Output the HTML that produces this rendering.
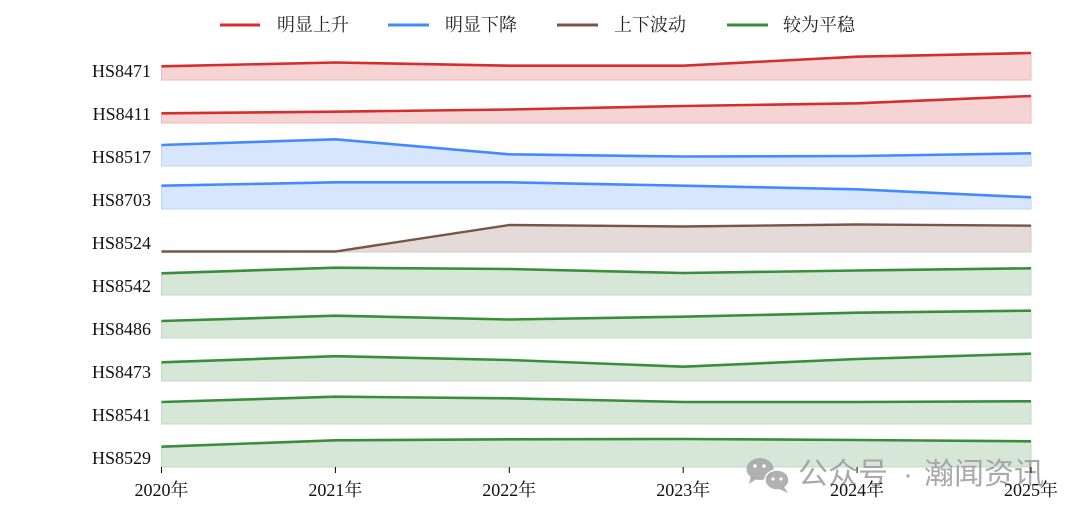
<!DOCTYPE html>
<html><head><meta charset="utf-8"><style>
html,body{margin:0;padding:0;background:#fff;}
svg{display:block;}
text{font-family:"Liberation Serif","Noto Serif CJK SC",serif;}
.lg{font-family:"Liberation Serif","Noto Serif CJK SC",serif;font-size:18px;fill:#222;}
.yl{font-size:18px;fill:#111;text-anchor:end;}
.xl{font-size:18px;fill:#111;text-anchor:middle;}
.wm{font-family:"Liberation Sans","Noto Sans CJK SC",sans-serif;font-size:30px;fill:#9a9a9a;fill-opacity:0.85;}
</style></head><body>
<svg width="1080" height="519" viewBox="0 0 1080 519" xmlns="http://www.w3.org/2000/svg">
<!-- Legend -->
<line x1="220" y1="25" x2="260" y2="25" stroke="#d32f2f" stroke-width="3"/>
<text class="lg" x="277" y="31">明显上升</text>
<line x1="388" y1="25" x2="429" y2="25" stroke="#448aff" stroke-width="3"/>
<text class="lg" x="445" y="31">明显下降</text>
<line x1="557" y1="25" x2="598" y2="25" stroke="#795548" stroke-width="3"/>
<text class="lg" x="614" y="31">上下波动</text>
<line x1="727" y1="25" x2="768" y2="25" stroke="#388e3c" stroke-width="3"/>
<text class="lg" x="783" y="31">较为平稳</text>

<!-- Row 1 HS8471 base 80 -->
<polygon points="161.5,66.3 335.4,62.5 509.3,65.7 683.2,65.7 857.1,56.7 1031,53 1031,80 161.5,80" fill="#f6d4d4" stroke="#f0b9b9" stroke-width="1"/>
<polyline points="161.5,66.3 335.4,62.5 509.3,65.7 683.2,65.7 857.1,56.7 1031,53" fill="none" stroke="#d32f2f" stroke-width="2.6"/>
<!-- Row 2 HS8411 base 123 -->
<polygon points="161.5,113.3 335.4,111.7 509.3,109.5 683.2,106 857.1,103.3 1031,96 1031,123 161.5,123" fill="#f6d4d4" stroke="#f0b9b9" stroke-width="1"/>
<polyline points="161.5,113.3 335.4,111.7 509.3,109.5 683.2,106 857.1,103.3 1031,96" fill="none" stroke="#d32f2f" stroke-width="2.6"/>
<!-- Row 3 HS8517 base 166 -->
<polygon points="161.5,145 335.4,139.3 509.3,154.3 683.2,156.5 857.1,156 1031,153.3 1031,166 161.5,166" fill="#d7e6fc" stroke="#bcd5fa" stroke-width="1"/>
<polyline points="161.5,145 335.4,139.3 509.3,154.3 683.2,156.5 857.1,156 1031,153.3" fill="none" stroke="#448aff" stroke-width="2.6"/>
<!-- Row 4 HS8703 base 209 -->
<polygon points="161.5,185.7 335.4,182.3 509.3,182.3 683.2,185.7 857.1,189.3 1031,197.3 1031,209 161.5,209" fill="#d7e6fc" stroke="#bcd5fa" stroke-width="1"/>
<polyline points="161.5,185.7 335.4,182.3 509.3,182.3 683.2,185.7 857.1,189.3 1031,197.3" fill="none" stroke="#448aff" stroke-width="2.6"/>
<!-- Row 5 HS8524 base 252 -->
<polygon points="161.5,251.5 335.4,251.5 509.3,225 683.2,226.5 857.1,224.5 1031,225.7 1031,252 161.5,252" fill="#e4dbd8" stroke="#d6c8c3" stroke-width="1"/>
<polyline points="161.5,251.5 335.4,251.5 509.3,225 683.2,226.5 857.1,224.5 1031,225.7" fill="none" stroke="#795548" stroke-width="2.4"/>
<!-- Row 6 HS8542 base 295 -->
<polygon points="161.5,273.3 335.4,267.7 509.3,269 683.2,273 857.1,270.5 1031,268.3 1031,295 161.5,295" fill="#d7e7d7" stroke="#c0dbc1" stroke-width="1"/>
<polyline points="161.5,273.3 335.4,267.7 509.3,269 683.2,273 857.1,270.5 1031,268.3" fill="none" stroke="#388e3c" stroke-width="2.6"/>
<!-- Row 7 HS8486 base 338 -->
<polygon points="161.5,321 335.4,315.7 509.3,319.5 683.2,316.7 857.1,312.7 1031,310.7 1031,338 161.5,338" fill="#d7e7d7" stroke="#c0dbc1" stroke-width="1"/>
<polyline points="161.5,321 335.4,315.7 509.3,319.5 683.2,316.7 857.1,312.7 1031,310.7" fill="none" stroke="#388e3c" stroke-width="2.6"/>
<!-- Row 8 HS8473 base 381 -->
<polygon points="161.5,362.3 335.4,356.2 509.3,360 683.2,366.7 857.1,359 1031,353.7 1031,381 161.5,381" fill="#d7e7d7" stroke="#c0dbc1" stroke-width="1"/>
<polyline points="161.5,362.3 335.4,356.2 509.3,360 683.2,366.7 857.1,359 1031,353.7" fill="none" stroke="#388e3c" stroke-width="2.6"/>
<!-- Row 9 HS8541 base 424 -->
<polygon points="161.5,402 335.4,396.7 509.3,398.3 683.2,402 857.1,402 1031,401.3 1031,424 161.5,424" fill="#d7e7d7" stroke="#c0dbc1" stroke-width="1"/>
<polyline points="161.5,402 335.4,396.7 509.3,398.3 683.2,402 857.1,402 1031,401.3" fill="none" stroke="#388e3c" stroke-width="2.6"/>
<!-- Row 10 HS8529 base 467 -->
<polygon points="161.5,446.7 335.4,440.3 509.3,439.3 683.2,439 857.1,440 1031,441.3 1031,467 161.5,467" fill="#d7e7d7" stroke="#c0dbc1" stroke-width="1"/>
<polyline points="161.5,446.7 335.4,440.3 509.3,439.3 683.2,439 857.1,440 1031,441.3" fill="none" stroke="#388e3c" stroke-width="2.6"/>

<!-- Y labels -->
<text class="yl" x="151" y="77">HS8471</text>
<text class="yl" x="151" y="120">HS8411</text>
<text class="yl" x="151" y="163">HS8517</text>
<text class="yl" x="151" y="206">HS8703</text>
<text class="yl" x="151" y="249">HS8524</text>
<text class="yl" x="151" y="292">HS8542</text>
<text class="yl" x="151" y="335">HS8486</text>
<text class="yl" x="151" y="378">HS8473</text>
<text class="yl" x="151" y="421">HS8541</text>
<text class="yl" x="151" y="464">HS8529</text>

<!-- Watermark -->
<g fill="#a8a8a8" fill-opacity="0.9">
  <ellipse cx="760" cy="469" rx="13.5" ry="11"/>
  <polygon points="751,476 749,484 758,478"/>
  <ellipse cx="777" cy="480" rx="12" ry="10" stroke="#fff" stroke-width="1.5"/>
  <polygon points="784,487 788,493 779,489"/>
</g>
<g fill="#fff">
  <circle cx="755" cy="466" r="1.8"/><circle cx="764" cy="466" r="1.8"/>
  <circle cx="773" cy="479" r="1.6"/><circle cx="781" cy="479" r="1.6"/>
</g>
<text class="wm" x="798" y="484">公众号</text>
<text class="wm" x="908" y="484" text-anchor="middle">·</text>
<text class="wm" x="924" y="484">瀚闻资讯</text>

<!-- X ticks -->
<g stroke="#000" stroke-width="1">
  <line x1="161.5" y1="467" x2="161.5" y2="473"/>
  <line x1="335.4" y1="467" x2="335.4" y2="473"/>
  <line x1="509.3" y1="467" x2="509.3" y2="473"/>
  <line x1="683.2" y1="467" x2="683.2" y2="473"/>
  <line x1="857.1" y1="467" x2="857.1" y2="473"/>
  <line x1="1031" y1="467" x2="1031" y2="473"/>
</g>
<text class="xl" x="161.5" y="496">2020年</text>
<text class="xl" x="335.4" y="496">2021年</text>
<text class="xl" x="509.3" y="496">2022年</text>
<text class="xl" x="683.2" y="496">2023年</text>
<text class="xl" x="857.1" y="496">2024年</text>
<text class="xl" x="1031" y="496">2025年</text>
</svg>
</body></html>
